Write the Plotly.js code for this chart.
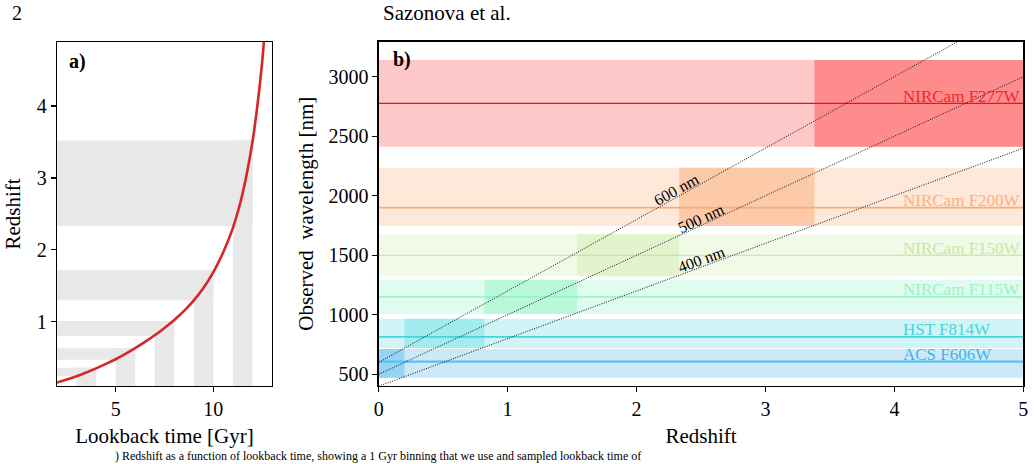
<!DOCTYPE html>
<html>
<head>
<meta charset="utf-8">
<script src="https://cdn.plot.ly/plotly-3.0.1.min.js"></script>
<style>html,body{margin:0;padding:0;background:#fff;}#chart{width:1035px;height:464px;}</style>
</head>
<body>
<div id="chart"></div>
<script>
// ---------- Panel a data ----------
const lookbackGyr = [2.0, 2.5, 3.0, 3.5, 4.0, 4.5, 5.0, 5.5, 6.0, 6.5, 7.0, 7.5, 8.0, 8.5, 9.0, 9.5, 10.0, 10.5, 11.0, 11.5, 12.0, 12.25, 12.5, 12.6];
const curveRedshift = [0.153, 0.195, 0.242, 0.294, 0.351, 0.413, 0.478, 0.552, 0.632, 0.719, 0.812, 0.914, 1.025, 1.150, 1.297, 1.472, 1.690, 1.962, 2.305, 2.790, 3.500, 4.00, 4.62, 4.95];
const binTimeLo = [3, 5, 7, 9, 11];
const binTimeHi = [4, 6, 8, 10, 12];
const binZLo = [0.24, 0.47, 0.80, 1.30, 2.33];
const binZHi = [0.36, 0.63, 1.01, 1.72, 3.52];

// ---------- Panel b data ----------
const filterNames = ['ACS F606W', 'HST F814W', 'NIRCam F115W', 'NIRCam F150W', 'NIRCam F200W', 'NIRCam F277W'];
const filterCenter = [606, 815, 1150, 1500, 1900, 2776];
const filterLo = [471, 720, 1006, 1324, 1745, 2412];
const filterHi = [713, 966, 1293, 1676, 2235, 3140];
const filterZLo = [0, 0.2, 0.82, 1.54, 2.33, 3.38];
const filterZHi = [0.2, 0.82, 1.54, 2.33, 3.38, 5];
const restWavelengths = [400, 500, 600];
const restLineZ = [0, 5];
const restLineObserved = [[400, 2400], [500, 3000], [600, 3600]];

// ---------- styles ----------
const lightCol = ['#cde9f7', '#d1f4f6', '#e0fcee', '#f1f9e7', '#fee8d9', '#fec8c8'];
const darkCol  = ['#97d3f3', '#a2ebef', '#b9f8da', '#e1f4cd', '#fdcaa9', '#ff8c8c'];
const lineCol  = ['#5ac1f0', '#45d5de', '#8af0bf', '#b8e68c', '#fcab74', '#e8141b'];
const textCol  = ['#3db4ee', '#48d4de', '#9af2c6', '#c4eaa0', '#fdb07f', '#f0282d'];
const lineW    = [2.2, 1.8, 1.2, 1.2, 1.6, 1.2];
const FONT = "'Liberation Serif', 'Times New Roman', serif";
const grey = '#e8e8e8';

const aX = [2.0, 13.0], aY = [0.106, 4.89];
const bX = [0, 5], bY = [404, 3294];

const traces = [];
const shapes = [];
const annotations = [];

// Panel a grey L-shaped bins
for (let i = 0; i < binTimeLo.length; i++) {
  shapes.push({type: 'rect', xref: 'x', yref: 'y', layer: 'below', line: {width: 0}, fillcolor: grey,
    x0: aX[0], x1: binTimeHi[i], y0: binZLo[i], y1: binZHi[i]});
  shapes.push({type: 'rect', xref: 'x', yref: 'y', layer: 'below', line: {width: 0}, fillcolor: grey,
    x0: binTimeLo[i], x1: binTimeHi[i], y0: aY[0], y1: binZHi[i]});
}
traces.push({x: lookbackGyr, y: curveRedshift, xaxis: 'x', yaxis: 'y', type: 'scatter', mode: 'lines',
  line: {color: '#d62728', width: 2.6, shape: 'spline', smoothing: 1}, hoverinfo: 'skip', showlegend: false});

// Panel b bands
for (let i = 0; i < filterNames.length; i++) {
  shapes.push({type: 'rect', xref: 'x2', yref: 'y2', layer: 'below', line: {width: 0}, fillcolor: lightCol[i],
    x0: bX[0], x1: bX[1], y0: filterLo[i], y1: filterHi[i]});
  shapes.push({type: 'rect', xref: 'x2', yref: 'y2', layer: 'below', line: {width: 0}, fillcolor: darkCol[i],
    x0: filterZLo[i], x1: filterZHi[i], y0: filterLo[i], y1: filterHi[i]});
  traces.push({x: bX, y: [filterCenter[i], filterCenter[i]], xaxis: 'x2', yaxis: 'y2', type: 'scatter', mode: 'lines',
    line: {color: lineCol[i], width: lineW[i]}, hoverinfo: 'skip', showlegend: false});
  annotations.push({xref: 'x2', yref: 'y2', x: 4.054, y: filterCenter[i], xanchor: 'left', yanchor: 'bottom',
    yshift: -4.5, text: filterNames[i], showarrow: false, font: {family: FONT, size: 17, color: textCol[i]}});
}
// rest-frame lines
for (let i = 0; i < restWavelengths.length; i++) {
  traces.push({x: restLineZ, y: restLineObserved[i], xaxis: 'x2', yaxis: 'y2', type: 'scatter', mode: 'lines',
    line: {color: '#111', width: 1, dash: '1px,1.4px'}, hoverinfo: 'skip', showlegend: false});
}
const labelZ = [2.50, 2.50, 2.31];
const labelShift = [8, 6.5, 8];
const labelAngle = [-20.3, -24.8, -29];
for (let i = 0; i < restWavelengths.length; i++) {
  const o = restLineObserved[i];
  const yv = o[0] + (o[1] - o[0]) * (labelZ[i] - restLineZ[0]) / (restLineZ[1] - restLineZ[0]);
  annotations.push({xref: 'x2', yref: 'y2', x: labelZ[i], y: yv, yshift: labelShift[i], textangle: labelAngle[i],
    text: restWavelengths[i] + ' nm', showarrow: false, font: {family: FONT, size: 16, color: '#000'}});
}

// panel labels
annotations.push({xref: 'paper', yref: 'paper', x: 67 / 1035, y: 1 - 62 / 464, xanchor: 'left', yanchor: 'middle',
  text: '<b>a)</b>', showarrow: false, font: {family: FONT, size: 20, color: '#000'}});
annotations.push({xref: 'paper', yref: 'paper', x: 391 / 1035, y: 1 - 60 / 464, xanchor: 'left', yanchor: 'middle',
  text: '<b>b)</b>', showarrow: false, font: {family: FONT, size: 20, color: '#000'}});
// page header and caption
annotations.push({xref: 'paper', yref: 'paper', x: 17 / 1035, y: 1 - 13 / 464, xanchor: 'center', yanchor: 'middle',
  text: '2', showarrow: false, font: {family: FONT, size: 20, color: '#000'}});
annotations.push({xref: 'paper', yref: 'paper', x: 447 / 1035, y: 1 - 13 / 464, xanchor: 'center', yanchor: 'middle',
  text: 'Sazonova et al.', showarrow: false, font: {family: FONT, size: 21, color: '#000'}});
annotations.push({xref: 'paper', yref: 'paper', x: 113 / 1035, y: 0, xanchor: 'left', yanchor: 'bottom', yshift: -1,
  text: ') Redshift as a function of lookback time, showing a 1 Gyr binning that we use and sampled lookback time of',
  showarrow: false, font: {family: FONT, size: 12, color: '#000'}});

const axCommon = {showgrid: false, zeroline: false, showline: true, linecolor: '#000', linewidth: 1.3, mirror: true,
  ticks: 'outside', ticklen: 5, tickwidth: 1.2, tickcolor: '#000',
  tickfont: {family: FONT, size: 20, color: '#000'}, fixedrange: true};

const layout = {
  width: 1035, height: 464, margin: {l: 0, r: 0, t: 0, b: 0},
  paper_bgcolor: '#fff', plot_bgcolor: 'rgba(0,0,0,0)', showlegend: false,
  xaxis: Object.assign({}, axCommon, {domain: [57 / 1035, 272 / 1035], range: aX, tickvals: [5, 10], anchor: 'y',
    title: {text: 'Lookback time [Gyr]', font: {family: FONT, size: 21, color: '#000'}, standoff: 9}}),
  yaxis: Object.assign({}, axCommon, {domain: [1 - 386 / 464, 1 - 42 / 464], range: aY, tickvals: [1, 2, 3, 4], anchor: 'x',
    title: {text: 'Redshift', font: {family: FONT, size: 21, color: '#000'}, standoff: 10}}),
  xaxis2: Object.assign({}, axCommon, {domain: [378.7 / 1035, 1023.3 / 1035], range: bX, tickvals: [0, 1, 2, 3, 4, 5], anchor: 'y2',
    title: {text: 'Redshift', font: {family: FONT, size: 21, color: '#000'}, standoff: 9}}),
  yaxis2: Object.assign({}, axCommon, {domain: [1 - 385.7 / 464, 1 - 41.7 / 464], range: bY, tickvals: [500, 1000, 1500, 2000, 2500, 3000], anchor: 'x2',
    title: {text: 'Observed\u00a0 wavelength [nm]', font: {family: FONT, size: 21, color: '#000'}, standoff: 9}}),
  shapes: shapes,
  annotations: annotations
};

Plotly.newPlot('chart', traces, layout, {displayModeBar: false, staticPlot: true});
</script>
</body>
</html>
